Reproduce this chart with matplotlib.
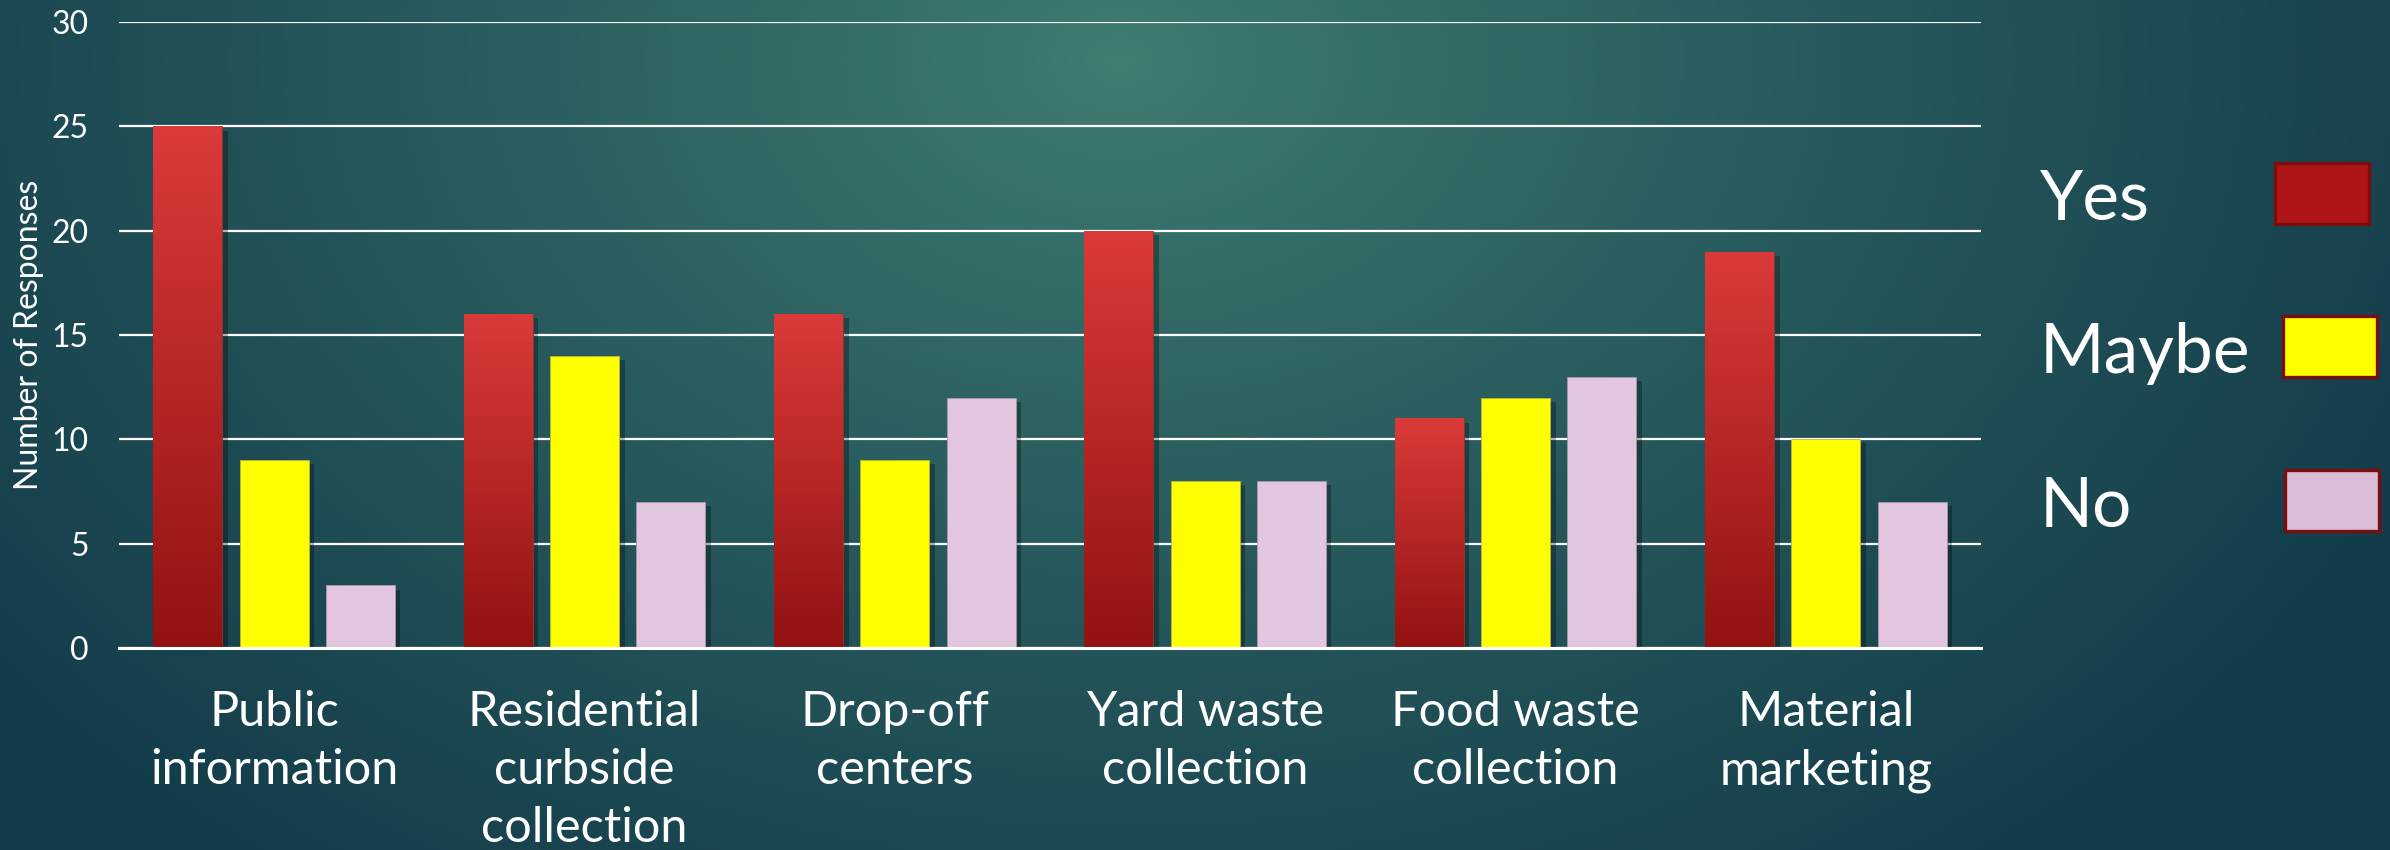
import numpy as np
import matplotlib.pyplot as plt
from matplotlib.patches import Rectangle
from matplotlib import patheffects as pe

categories = ["Public\ninformation", "Residential\ncurbside\ncollection", "Drop-off\ncenters",
              "Yard waste\ncollection", "Food waste\ncollection", "Material\nmarketing"]
yes_vals = [25, 16, 16, 20, 11, 19]
maybe_vals = [9, 14, 9, 8, 12, 10]
no_vals = [3, 7, 12, 8, 13, 7]
series_names = ["Yes", "Maybe", "No"]
y_ticks = [0, 5, 10, 15, 20, 25, 30]

W, H = 2390, 850
plt.rcParams['font.family'] = ['Lato', 'DejaVu Sans']

fig = plt.figure(figsize=(W / 100, H / 100), dpi=100)

# background: soft radial teal gradient
bg = fig.add_axes([0, 0, 1, 1], zorder=0)
yy, xx = np.mgrid[0:H, 0:W]
t = np.sqrt(((xx - 1120) / 1400.0) ** 2 + ((yy - 60) / 1000.0) ** 2)
t = np.clip(t, 0, 1) ** 0.85
c_in = np.array([0x40, 0x7e, 0x72]) / 255
c_out = np.array([0x14, 0x3d, 0x4b]) / 255
img = c_in[None, None, :] * (1 - t[..., None]) + c_out[None, None, :] * t[..., None]
bg.imshow(img, aspect='auto', extent=[0, 1, 0, 1], origin='upper')
bg.axis('off')

ax = fig.add_axes([119 / W, 1 - 648 / H, (1981 - 119) / W, (648 - 22) / H], zorder=1)
ax.patch.set_alpha(0)

x = np.arange(len(categories))
w = 0.222
off = 0.278
shadow = [pe.SimplePatchShadow(offset=(4, -3), shadow_rgbFace='black', alpha=0.3), pe.Normal()]

red_bars = ax.bar(x - off, yes_vals, w, color='#931313', edgecolor='#8a3a3a', linewidth=0.6, zorder=3)
ax.bar(x, maybe_vals, w, color='#ffff00', edgecolor='#b8b840', linewidth=0.6, zorder=3,
       path_effects=shadow)
ax.bar(x + off, no_vals, w, color='#e2c5df', edgecolor='#a899a8', linewidth=0.6, zorder=3,
       path_effects=shadow)

# vertical red gradient on each "Yes" bar
grad = np.linspace(0, 1, 256)[:, None]
top = np.array([0xda, 0x3b, 0x39]) / 255
bot = np.array([0x92, 0x12, 0x12]) / 255
grad_img = top[None, None, :] * (1 - grad[..., None]) + bot[None, None, :] * grad[..., None]
for b in red_bars:
    b.set_path_effects(shadow)
    im = ax.imshow(grad_img, aspect='auto', zorder=3.5, origin='upper',
                   extent=[b.get_x(), b.get_x() + b.get_width(), 0, b.get_height()])
    im.set_clip_path(b)

ax.set_xlim(-0.5, len(categories) - 0.5)
ax.set_ylim(0, 30)
ax.set_yticks(y_ticks)
ax.yaxis.grid(True, color='white', linewidth=1.6, zorder=1)
ax.set_axisbelow(True)
for s in ['top', 'right', 'left']:
    ax.spines[s].set_visible(False)
ax.spines['bottom'].set_color('white')
ax.spines['bottom'].set_linewidth(2.2)
ax.spines['bottom'].set_zorder(4)

ax.set_xticks(x)
ax.set_xticklabels(categories, fontsize=35, color='white', linespacing=1.4)
ax.tick_params(axis='x', length=0, pad=30)
ax.tick_params(axis='y', length=0, pad=22, labelsize=23, labelcolor='white')
ax.set_ylabel("Number of Responses", fontsize=23, color='white', labelpad=5)

# legend drawn on the right, text then swatch
leg_colors = ['#b01515', '#ffff00', '#d9bdd7']
leg_base = [220, 373, 527]
leg_box_x = [2275, 2283, 2285]
for name, col, yb, bx in zip(series_names, leg_colors, leg_base, leg_box_x):
    fig.text(2040 / W, 1 - yb / H, name, fontsize=50, color='white', va='baseline', ha='left')
    fig.add_artist(Rectangle((bx / W, 1 - (yb + 4) / H), 94 / W, 61 / H, transform=fig.transFigure,
                             facecolor=col, edgecolor='#7a0e0e', linewidth=2.4, zorder=5))

fig.savefig("out.png", dpi=100)
